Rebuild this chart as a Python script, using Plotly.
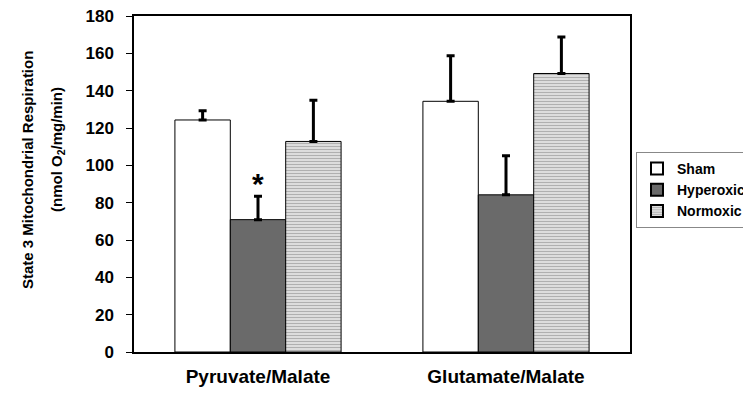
import plotly.graph_objects as go

categories = ["Pyruvate/Malate", "Glutamate/Malate"]
series_names = ["Sham", "Hyperoxic", "Normoxic"]
sham_vals = [124.3, 134.3]
sham_err = [5.0, 24.4]
hyper_vals = [70.9, 84.2]
hyper_err = [12.5, 21.0]
normo_vals = [112.8, 149.2]
normo_err = [22.0, 19.5]
y_ticks = [0, 20, 40, 60, 80, 100, 120, 140, 160, 180]

FONT = "Liberation Sans, Arial, sans-serif"

# The page body has an 8px margin, so figure coords = screen coords - 8
L, T, R, B = 126, 8, 622, 344
PW, PH = R - L, B - T

def px(xs):
    return ((xs - 8) - L) / PW

def py(ys):
    return (B - (ys - 8)) / PH

def err(arr):
    return dict(type="data", array=arr, arrayminus=[0] * len(arr), symmetric=False,
                color="black", thickness=3, width=4)

fig = go.Figure()
fig.add_trace(go.Bar(name=series_names[0], x=categories, y=sham_vals, error_y=err(sham_err),
                     marker=dict(color="white", line=dict(color="black", width=1))))
fig.add_trace(go.Bar(name=series_names[1], x=categories, y=hyper_vals, error_y=err(hyper_err),
                     marker=dict(color="#6a6a6a", line=dict(color="black", width=1))))
fig.add_trace(go.Bar(name=series_names[2], x=categories, y=normo_vals, error_y=err(normo_err),
                     marker=dict(color="#d0d0d0", line=dict(color="black", width=1),
                                 pattern=dict(shape="-", fgcolor="#7a7a7a", bgcolor="#e6e6e6",
                                              size=3, solidity=0.45, fillmode="overlay"))))

fig.update_layout(
    width=751, height=395,
    margin=dict(l=L, r=751 - R, t=T, b=395 - B, autoexpand=False),
    paper_bgcolor="white", plot_bgcolor="white",
    barmode="group", bargap=0.33, bargroupgap=0,
    font=dict(family=FONT, color="black"),
    showlegend=True,
    legend=dict(x=px(636), xanchor="left", y=py(152), yanchor="top",
                bordercolor="#888888", borderwidth=1, bgcolor="white",
                font=dict(family=FONT, size=14, color="black", weight="bold"),
                itemsizing="constant", tracegroupgap=0, itemwidth=30),
    xaxis=dict(showline=True, linecolor="black", linewidth=1.5, mirror=True,
               ticks="", showgrid=False, ticklabelstandoff=6, automargin=False,
               tickfont=dict(family=FONT, size=19, weight="bold")),
    yaxis=dict(range=[0, 180], tickvals=y_ticks, showline=True, linecolor="black",
               linewidth=1.5, mirror=True, ticks="outside", ticklen=6, tickwidth=1,
               tickcolor="black", showgrid=False, zeroline=False, ticklabelstandoff=9,
               automargin=False, ticklabeloverflow="allow",
               tickfont=dict(family=FONT, size=17, weight="bold")),
)

# Y-axis title lines and significance marker via annotations
fig.add_annotation(text="State 3 Mitochondrial Respiration", xref="paper", yref="paper",
                   x=px(27), y=py(170), xanchor="center", yanchor="middle",
                   showarrow=False, textangle=-90,
                   font=dict(family=FONT, size=15, weight="bold"))
fig.add_annotation(text="(nmol O<sub>2</sub>/mg/min)", xref="paper", yref="paper",
                   x=px(57), y=py(150), xanchor="center", yanchor="middle",
                   showarrow=False, textangle=-90,
                   font=dict(family=FONT, size=15, weight="bold"))
fig.add_annotation(text="*", x=categories[0], y=hyper_vals[0] + hyper_err[0] + 7,
                   xref="x", yref="y", showarrow=False, yanchor="middle",
                   font=dict(family=FONT, size=30, weight="bold"))

fig.write_html("out.html")
